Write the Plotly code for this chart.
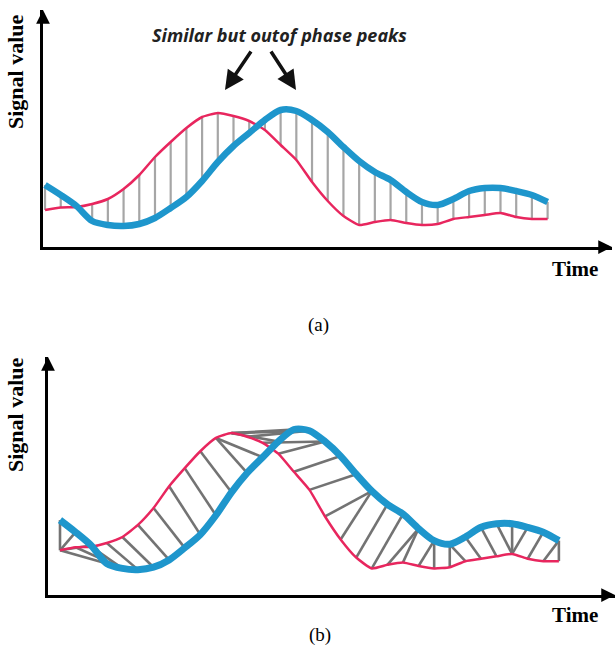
import plotly.graph_objects as go

# ---- data (time steps and signal values) ----
time_steps = list(range(33))
red_signal = [3.7, 3.95, 4.0, 4.3, 4.8, 5.8, 7.2, 9.0, 10.5, 11.9, 13.0, 13.4, 13.1, 12.6,
              11.7, 10.2, 8.7, 6.5, 4.6, 3.1, 2.2, 2.5, 2.7, 2.4, 2.2, 2.3, 2.8, 3.0, 3.2,
              3.4, 3.0, 2.8, 2.8]
blue_signal = [6.2, 5.2, 4.1, 2.6, 2.2, 2.1, 2.3, 2.9, 3.9, 5.0, 6.6, 8.5, 10.1, 11.4,
               12.7, 13.7, 13.6, 12.7, 11.5, 10.0, 8.6, 7.5, 6.7, 5.5, 4.5, 4.2, 4.8, 5.6,
               5.9, 5.9, 5.6, 5.2, 4.5]
# warping path of panel (b): (red index, blue index) pairs
dtw_pairs = [(0, 0), (0, 1), (0, 2), (0, 3), (1, 4), (2, 4), (3, 5), (4, 6), (5, 7), (6, 8),
             (7, 9), (8, 10), (9, 11), (10, 12), (10, 13), (11, 14), (11, 15), (11, 16),
             (12, 16), (13, 17), (14, 17), (15, 18), (16, 19), (17, 20), (18, 20), (19, 21),
             (20, 22), (21, 23), (22, 23), (23, 24), (24, 24), (25, 25), (26, 25), (27, 26),
             (28, 27), (29, 28), (29, 29), (29, 30), (30, 31), (31, 32), (32, 32)]

axis_title_y = "Signal value"
axis_title_x = "Time"
panel_labels = ["(a)", "(b)"]
note_text = "Similar but outof phase peaks"

RED = "#e8265e"
BLUE = "#1e96cc"
W, H = 615, 650


def px(x):
    return x / W


def py(y):
    return 1 - y / H


fig = go.Figure()

# ---------- panel (a): point-to-point matching ----------
gx, gy = [], []
for t, r, b in zip(time_steps, red_signal, blue_signal):
    gx += [t, t, None]
    gy += [r, b, None]
fig.add_trace(go.Scatter(x=gx, y=gy, mode="lines", line=dict(color="#a6a6a6", width=2.2),
                         xaxis="x", yaxis="y", hoverinfo="skip", showlegend=False))
fig.add_trace(go.Scatter(x=time_steps, y=red_signal, mode="lines",
                         line=dict(color=RED, width=2.5, shape="spline", smoothing=0.5),
                         xaxis="x", yaxis="y", showlegend=False))
fig.add_trace(go.Scatter(x=time_steps, y=blue_signal, mode="lines",
                         line=dict(color=BLUE, width=6.5, shape="spline", smoothing=0.8),
                         xaxis="x", yaxis="y", showlegend=False))

# ---------- panel (b): DTW matching ----------
hx, hy = [], []
for i, j in dtw_pairs:
    hx += [time_steps[i], time_steps[j], None]
    hy += [red_signal[i], blue_signal[j], None]
fig.add_trace(go.Scatter(x=hx, y=hy, mode="lines", line=dict(color="#737373", width=2.6),
                         xaxis="x2", yaxis="y2", hoverinfo="skip", showlegend=False))
fig.add_trace(go.Scatter(x=time_steps, y=red_signal, mode="lines",
                         line=dict(color=RED, width=2.5, shape="spline", smoothing=0.5),
                         xaxis="x2", yaxis="y2", showlegend=False))
fig.add_trace(go.Scatter(x=time_steps, y=blue_signal, mode="lines",
                         line=dict(color=BLUE, width=7, shape="spline", smoothing=0.8),
                         xaxis="x2", yaxis="y2", showlegend=False))

ax_common = dict(showgrid=False, zeroline=False, showticklabels=False, ticks="",
                 showline=True, linecolor="black", linewidth=3, fixedrange=True)

fig.update_layout(
    width=W, height=H,
    margin=dict(l=0, r=0, t=0, b=0),
    paper_bgcolor="white", plot_bgcolor="white",
    xaxis=dict(domain=[px(43), px(612)], range=[-0.13, 36.1], anchor="y", **ax_common),
    yaxis=dict(domain=[py(247), py(10)], range=[0, 23.7], anchor="x", **ax_common),
    xaxis2=dict(domain=[px(48), px(615)], range=[-0.77, 35.6], anchor="y2", **ax_common),
    yaxis2=dict(domain=[py(595), py(357)], range=[0, 19.7], anchor="x2", **ax_common),
)

serif = "Liberation Serif, Times New Roman, serif"
ann = []
# axis arrow heads
for xr, yr in [("x", "y"), ("x2", "y2")]:
    ann.append(dict(x=1, y=0, xref=f"{xr} domain", yref=f"{yr} domain", ax=-14, ay=0,
                    showarrow=True, arrowhead=2, arrowsize=1.1, arrowwidth=2.5,
                    arrowcolor="black", text=""))
    ann.append(dict(x=0, y=1, xref=f"{xr} domain", yref=f"{yr} domain", ax=0, ay=14,
                    showarrow=True, arrowhead=2, arrowsize=1.1, arrowwidth=2.5,
                    arrowcolor="black", text=""))
# axis titles
for ycen in (72, 415):
    ann.append(dict(x=px(16), y=py(ycen), xref="paper", yref="paper", text=f"<b>{axis_title_y}</b>",
                    textangle=-90, showarrow=False, xanchor="center", yanchor="middle",
                    font=dict(family=serif, size=22, color="black")))
for xcen, ycen in ((575, 269), (575, 615)):
    ann.append(dict(x=px(xcen), y=py(ycen), xref="paper", yref="paper", text=f"<b>{axis_title_x}</b>",
                    showarrow=False, xanchor="center", yanchor="middle",
                    font=dict(family=serif, size=21, color="black")))
for lab, xcen, ycen in ((panel_labels[0], 318, 325), (panel_labels[1], 320, 635)):
    ann.append(dict(x=px(xcen), y=py(ycen), xref="paper", yref="paper", text=lab,
                    showarrow=False, xanchor="center", yanchor="middle",
                    font=dict(family=serif, size=19, color="black")))
# note + arrows
ann.append(dict(x=px(279), y=py(35), xref="paper", yref="paper", text=f"<b><i>{note_text}</i></b>",
                showarrow=False, xanchor="center", yanchor="middle",
                font=dict(family="Open Sans, sans-serif", size=18, color="#222222")))
ann.append(dict(x=px(225), y=py(90), xref="paper", yref="paper", ax=27, ay=-40, text="",
                showarrow=True, arrowhead=2, arrowsize=1.1, arrowwidth=3.5, arrowcolor="#111111"))
ann.append(dict(x=px(296), y=py(90), xref="paper", yref="paper", ax=-26, ay=-40, text="",
                showarrow=True, arrowhead=2, arrowsize=1.1, arrowwidth=3.5, arrowcolor="#111111"))
fig.update_layout(annotations=ann)

fig.write_html("out.html", config={"displayModeBar": False},
               post_script="document.body.style.margin='0';")
